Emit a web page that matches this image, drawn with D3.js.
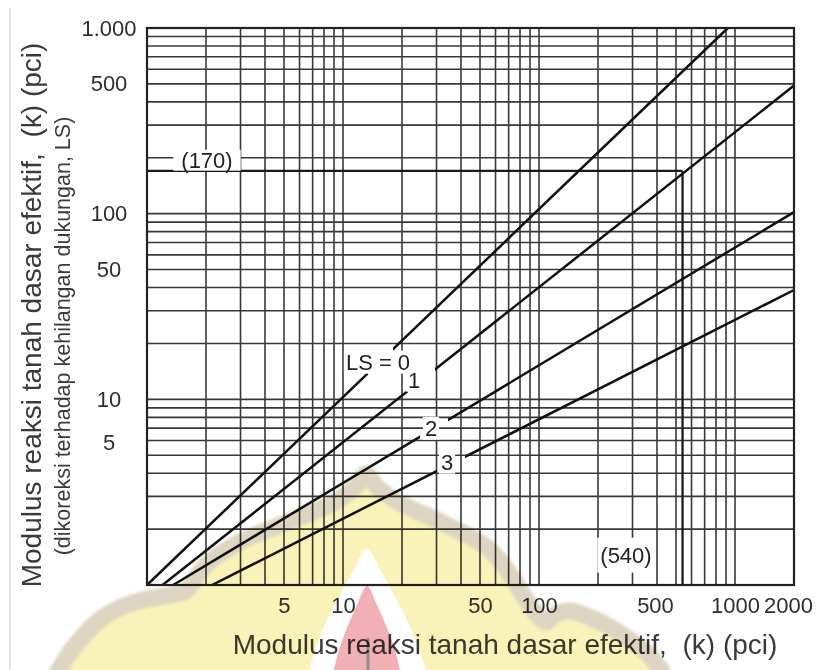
<!DOCTYPE html>
<html><head><meta charset="utf-8">
<script src="https://cdn.jsdelivr.net/npm/d3@7"></script>
<style>
html,body{margin:0;padding:0;background:#fff;}
svg{display:block;}
text{font-family:"Liberation Sans", Arial, Helvetica, sans-serif; white-space:pre;}
</style></head><body>
<svg id="chart" width="821" height="670"></svg>
<script>
// ---------------- data ----------------
const xTickValues = [5, 10, 50, 100, 500, 1000, 2000];
const xTickLabels = ["5", "10", "50", "100", "500", "1000", "2000"];
const yTickValues = [5, 10, 50, 100, 500, 1000];
const yTickLabels = ["5", "10", "50", "100", "500", "1.000"];
const xGridValues = [2,3,4,5,6,7,8,9,10,20,30,40,50,60,70,80,90,100,200,300,400,500,600,700,800,900,1000];
const yGridValues = [2,3,4,5,6,7,8,9,10,20,30,40,50,60,70,80,90,100,200,300,400,500,600,700,800,900];
const lsLabels = ["LS = 0", "1", "2", "3"];
const lsStartK  = [1, 1.2, 1.36, 2.15];   // effective k where the corrected k is 1
const lsStartKc = [1, 1, 1, 1];
const lsEndK    = [920, 2000, 2000, 2000];
const lsEndKc   = [1000, 490, 102, 38.8];
const exampleK  = 540;
const exampleKc = 170;
const exampleLabels = ["(170)", "(540)"];
const xTitle = "Modulus reaksi tanah dasar efektif,  (k) (pci)";
const yTitle = "Modulus reaksi tanah dasar efektif,  (k) (pci)";
const ySubtitle = "(dikoreksi terhadap kehilangan dukungan, LS)";

// ---------------- layout ----------------
const W = 821, H = 670;
const M = {left: 147, right: 794, top: 28, bottom: 585};
const xLabelNudge = {500: -21, 2000: -6};
const yLabelNudge = {5: -13};
const lsLabelPos = [[378, 362], [414, 380], [431, 428], [447, 462]];
const lsGapX = [[368, 393], [408, 435], [420, 448], [437, 465]];
const exampleLabelPos = [[207, 160], [626, 555]];
const exampleLabelPad = [[8, 1], [3, 8]];

const svg = d3.select("#chart");
const x = d3.scaleLog().domain([1, 2000]).range([M.left, M.right]);
const y = d3.scaleLog().domain([1, 1000]).range([M.bottom, M.top]);

svg.append("rect").attr("width", W).attr("height", H).attr("fill", "#fff");
// scan edge
svg.append("line").attr("x1", 10).attr("x2", 10).attr("y1", 8).attr("y2", H)
  .attr("stroke", "#e2e2e2").attr("stroke-width", 2);

const defs = svg.append("defs");

// grid
const grid = svg.append("g").attr("stroke", "#383838").attr("stroke-width", 1.6);
grid.selectAll("line.vx").data(xGridValues).join("line").attr("class", "vx")
  .attr("x1", d => x(d)).attr("x2", d => x(d)).attr("y1", M.top).attr("y2", M.bottom);
grid.selectAll("line.hy").data(yGridValues).join("line").attr("class", "hy")
  .attr("y1", d => y(d)).attr("y2", d => y(d)).attr("x1", M.left).attr("x2", M.right);

// example reading lines
const ex = svg.append("g").attr("stroke", "#1a1a1a").attr("stroke-width", 2.3).attr("fill", "none");
ex.append("line").attr("x1", x(1)).attr("x2", x(exampleK)).attr("y1", y(exampleKc)).attr("y2", y(exampleKc));
ex.append("line").attr("x1", x(exampleK)).attr("x2", x(exampleK)).attr("y1", y(exampleKc)).attr("y2", y(1));

// LS lines with gaps (masks)
lsLabels.forEach((lab, i) => {
  const m = defs.append("mask").attr("id", "gap" + i).attr("maskUnits", "userSpaceOnUse")
    .attr("x", 0).attr("y", 0).attr("width", W).attr("height", H);
  m.append("rect").attr("width", W).attr("height", H).attr("fill", "#fff");
  m.append("rect").attr("x", lsGapX[i][0]).attr("width", lsGapX[i][1] - lsGapX[i][0])
    .attr("y", 0).attr("height", H).attr("fill", "#000");
});
const line = d3.line().x(d => x(d[0])).y(d => y(d[1]));
svg.append("g").selectAll("path").data(lsLabels).join("path")
  .attr("d", (d, i) => line([[lsStartK[i], lsStartKc[i]], [lsEndK[i], lsEndKc[i]]]))
  .attr("mask", (d, i) => "url(#gap" + i + ")")
  .attr("fill", "none").attr("stroke", "#111").attr("stroke-width", 2.5);

// label helper with white background
function bgLabel(g, txt, cx, cy, size, padX, padY) {
  const r = g.append("rect").attr("fill", "#fff");
  const t = g.append("text").attr("x", cx).attr("y", cy).attr("dy", "0.35em")
    .attr("text-anchor", "middle").attr("font-size", size).attr("fill", "#222").text(txt);
  const b = t.node().getBBox();
  r.attr("x", b.x - padX).attr("y", b.y + 3 - padY).attr("width", b.width + 2 * padX).attr("height", b.height - 6 + 2 * padY);
}
const labs = svg.append("g");
lsLabels.forEach((lab, i) => bgLabel(labs, lab, lsLabelPos[i][0], lsLabelPos[i][1], 22, 2, 2));
exampleLabels.forEach((lab, i) => bgLabel(labs, lab, exampleLabelPos[i][0], exampleLabelPos[i][1], 22,
  exampleLabelPad[i][0], exampleLabelPad[i][1]));

// border
svg.append("rect").attr("x", M.left).attr("y", M.top).attr("width", M.right - M.left)
  .attr("height", M.bottom - M.top).attr("fill", "none").attr("stroke", "#222").attr("stroke-width", 2.2);

// axes
const xAxis = svg.append("g").attr("transform", `translate(0,${M.bottom})`)
  .call(d3.axisBottom(x).tickValues(xTickValues).tickFormat((d, i) => xTickLabels[i]).tickSize(0).tickPadding(12.5));
xAxis.select(".domain").remove();
xAxis.selectAll("text").attr("font-size", 22).attr("fill", "#2e2e2e").attr("font-family", null)
  .attr("x", d => xLabelNudge[d] || 0);

const yAxis = svg.append("g").attr("transform", `translate(${M.left},0)`)
  .call(d3.axisLeft(y).tickValues(yTickValues).tickFormat((d, i) => yTickLabels[i]).tickSize(0));
yAxis.select(".domain").remove();
yAxis.selectAll("text").attr("font-size", 22).attr("fill", "#2e2e2e").attr("font-family", null)
  .attr("text-anchor", "middle").attr("x", -38).attr("y", d => yLabelNudge[d] || 0);

// titles
svg.append("text").attr("x", 505).attr("y", 654).attr("text-anchor", "middle")
  .attr("font-size", 28).attr("fill", "#3a3a3a").text(xTitle);
svg.append("text").attr("transform", "translate(41,315) rotate(-90)").attr("text-anchor", "middle")
  .attr("font-size", 28).attr("fill", "#3a3a3a").text(yTitle);
svg.append("text").attr("transform", "translate(70,336) rotate(-90)").attr("text-anchor", "middle")
  .attr("font-size", 21.5).attr("fill", "#3a3a3a").text(ySubtitle);

// ---------------- watermark (decoration) ----------------
const bandPts = [[56,674],[78,642],[102,618],[135,602],[170,595],[186,591],[192,583],[208,563],[240,542],
  [290,521],[333,503],[356,486],[366,474],[377,487],[400,503],[445,524],[488,548],[510,574],[527,601],
  [540,618],[546,622],[556,614],[570,611],[598,621],[630,640],[652,658],[664,674]];
const curve = d3.line().curve(d3.curveCatmullRom.alpha(0.5));
defs.append("filter").attr("id", "soft").append("feGaussianBlur").attr("stdDeviation", 1.8);
const wm = svg.append("g").style("mix-blend-mode", "multiply");
wm.append("path").attr("d", curve(bandPts) + "L664,690L56,690Z").attr("fill", "#f9f3b9");
wm.append("path").attr("d", curve(bandPts)).attr("fill", "none").attr("stroke", "#ddd5c1")
  .attr("stroke-width", 17).attr("filter", "url(#soft)");
const whitePts = [[308,674],[316,648],[326,622],[340,595],[353,571],[367,549],[381,571],[394,595],[408,622],[418,648],[428,674]];
wm.append("path").attr("d", curve(whitePts) + "Z").attr("fill", "#fff");
const redPts = [[333,674],[339,650],[347,628],[357,605],[367,586],[377,605],[387,628],[395,650],[401,674]];
wm.append("path").attr("d", curve(redPts) + "Z").attr("fill", "#f1b0b6");
wm.append("line").attr("x1", 368).attr("x2", 368).attr("y1", 638).attr("y2", 672)
  .attr("stroke", "#8f8f8f").attr("stroke-width", 3);
</script>
</body></html>
